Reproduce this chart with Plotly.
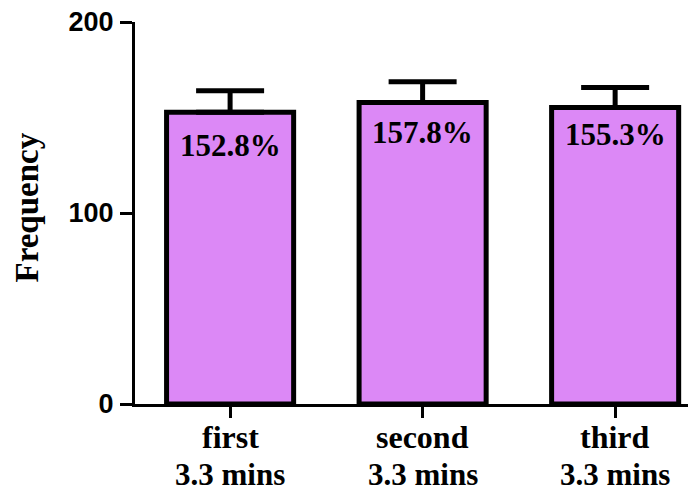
import plotly.graph_objects as go

categories = ["first", "second", "third"]
sublabel = "3.3 mins"
values = [152.8, 157.8, 155.3]
errors = [11.2, 10.9, 10.4]
labels = ["152.8%", "157.8%", "155.3%"]
y_ticks = [0, 100, 200]
y_title = "Frequency"

label_offsets = [-33, -30, -27]

SERIF = "Liberation Serif, Times New Roman, serif"
SANS = "Liberation Sans, Arial, sans-serif"

# page body has an 8px margin; size the figure so it fills the window
OFF = 8
W, H = 696 - OFF, 491 - OFF
L, R, T, B = 135 - OFF, 0, 22 - OFF, 87
PW = W - L - R
PH = H - T - B

fig = go.Figure()
fig.add_trace(go.Bar(
    x=list(range(len(values))),
    y=values,
    width=0.66,
    marker=dict(color="#DC88F6", line=dict(color="black", width=5)),
    error_y=dict(type="data", array=errors, arrayminus=[0] * len(errors),
                 symmetric=False, color="black", thickness=5, width=34),
    showlegend=False,
    hoverinfo="skip",
))

for i, (v, t) in enumerate(zip(values, labels)):
    fig.add_annotation(x=i, y=v, text=t, showarrow=False, yshift=label_offsets[i],
                       font=dict(family=SERIF, size=31, color="black", weight="bold"))

for i, c in enumerate(categories):
    fig.add_annotation(x=i, xref="x", y=0, yref="paper", text=c, showarrow=False,
                       yanchor="middle", yshift=-33,
                       font=dict(family=SERIF, size=32, color="black", weight="bold"))
    fig.add_annotation(x=i, xref="x", y=0, yref="paper", text=sublabel, showarrow=False,
                       yanchor="middle", yshift=-70, borderpad=0,
                       font=dict(family=SERIF, size=31, color="black", weight="bold"))

fig.add_annotation(x=(26 - 135) / PW, xref="paper", y=(404 - 207.5) / PH, yref="paper",
                   text=y_title, showarrow=False, textangle=-90,
                   xanchor="center", yanchor="middle",
                   font=dict(family=SERIF, size=33, color="black", weight="bold"))

fig.update_layout(
    width=W, height=H,
    margin=dict(l=L, r=R, t=T, b=B, autoexpand=False),
    plot_bgcolor="white", paper_bgcolor="white",
)
fig.update_xaxes(
    range=[-0.494, 2.42], automargin=False,
    tickmode="array", tickvals=list(range(len(categories))), ticktext=[""] * len(categories),
    showline=True, linecolor="black", linewidth=3,
    ticks="outside", ticklen=11, tickwidth=3, tickcolor="black",
    showgrid=False, zeroline=False,
)
fig.update_yaxes(
    range=[0, 200], automargin=False,
    tickmode="array", tickvals=y_ticks,
    showline=True, linecolor="black", linewidth=3,
    ticks="outside", ticklen=12, tickwidth=3, tickcolor="black",
    showgrid=False, zeroline=False, ticklabelstandoff=1, ticklabeloverflow="allow",
    tickfont=dict(family=SANS, size=27, color="black", weight="bold"),
)

fig.write_html("out.html")
